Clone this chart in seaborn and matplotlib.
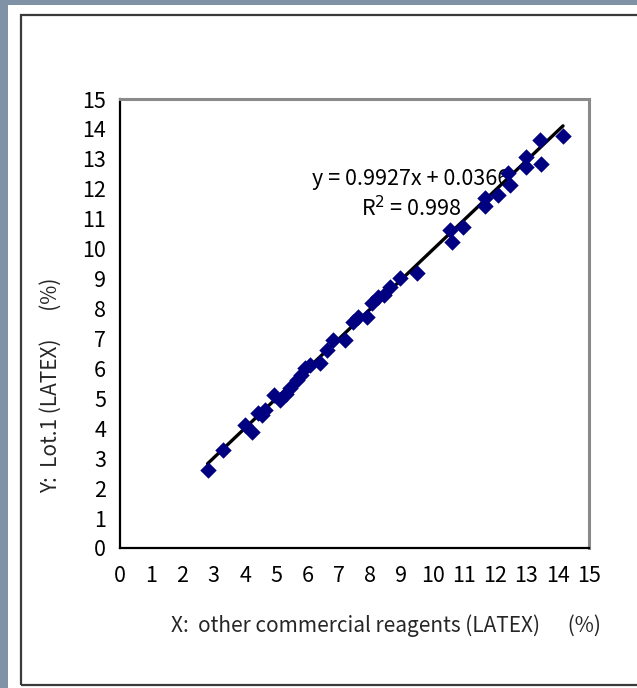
import seaborn as sns
import matplotlib.pyplot as plt
import matplotlib.patches as mpatches
import numpy as np

# данные
x_vals = [2.80, 3.30, 4.00, 4.21, 4.42, 4.55, 4.65, 4.92, 5.12, 5.30, 5.44,
          5.65, 5.80, 5.92, 6.08, 6.40, 6.61, 6.82, 7.20, 7.46, 7.62, 7.89,
          8.05, 8.26, 8.45, 8.63, 8.95, 9.49, 10.55, 10.61, 10.97, 11.67,
          11.67, 12.09, 12.41, 12.47, 12.98, 13.00, 13.43, 13.48, 14.17]
y_vals = [2.61, 3.27, 4.10, 3.89, 4.50, 4.45, 4.62, 5.11, 4.94, 5.15, 5.34,
          5.61, 5.78, 6.01, 6.11, 6.18, 6.61, 6.95, 6.95, 7.56, 7.73, 7.73,
          8.18, 8.40, 8.45, 8.73, 9.02, 9.18, 10.63, 10.23, 10.74, 11.70,
          11.41, 11.80, 12.53, 12.13, 13.07, 12.74, 13.63, 12.82, 13.77]
slope = 0.9927
intercept = 0.0366
r2 = 0.998
ticks = list(range(0, 16))

sns.set_style("white")
plt.rcParams['font.family'] = ['Noto Sans CJK JP', 'DejaVu Sans']

fig = plt.figure(figsize=(6.37, 6.88), dpi=100, facecolor='#7f92a6')

# белая подложка слайда и рамка (под осями)
fig.patches.append(mpatches.Rectangle((8 / 637, 0), 1, 1 - 5 / 688,
                                      transform=fig.transFigure,
                                      facecolor='white', edgecolor='none', zorder=-2))
fig.patches.append(mpatches.Rectangle((21 / 637, 3 / 688), 1.1, 1 - 18 / 688,
                                      transform=fig.transFigure,
                                      facecolor='none', edgecolor='#3a3a3a',
                                      linewidth=1.6, zorder=-1))

ax = fig.add_axes([120 / 637, 1 - 548 / 688, 469 / 637, 449 / 688])
ax.set_facecolor('white')

# линия тренда
lx = np.array([min(x_vals), max(x_vals)])
sns.lineplot(x=lx, y=slope * lx + intercept, color='black', linewidth=2.4,
             ax=ax, zorder=2)
sns.scatterplot(x=x_vals, y=y_vals, marker='D', color='#000080', s=70,
                edgecolor='#000080', linewidth=0, ax=ax, zorder=3)

ax.text(0.62, 0.822, f'y = {slope}x + {intercept}', transform=ax.transAxes,
        ha='center', va='center', fontsize=15.5, color='black', zorder=1)
ax.text(0.62, 0.757, f'R$^2$ = {r2}', transform=ax.transAxes,
        ha='center', va='center', fontsize=15.5, color='black', zorder=1)

ax.set_xlim(0, 15)
ax.set_ylim(0, 15)
ax.set_xticks(ticks)
ax.set_yticks(ticks)
ax.tick_params(direction='in', length=6, width=1, labelsize=15.5,
               colors='black')
ax.tick_params(axis='x', pad=12)
ax.tick_params(axis='y', pad=10)

for side in ['left', 'bottom']:
    ax.spines[side].set_color('black')
    ax.spines[side].set_linewidth(1.6)
for side in ['top', 'right']:
    ax.spines[side].set_color('#8a8a8a')
    ax.spines[side].set_linewidth(2.2)

ax.set_xlabel('X:  other commercial reagents (LATEX)      (%)', fontsize=15)
ax.set_ylabel('Y:  Lot.1 (LATEX)      (%)', fontsize=15)
ax.xaxis.set_label_coords(0.567, -0.148)
ax.yaxis.set_label_coords(-0.125, 0.363)

fig.savefig('out.png', dpi=100, facecolor=fig.get_facecolor())
